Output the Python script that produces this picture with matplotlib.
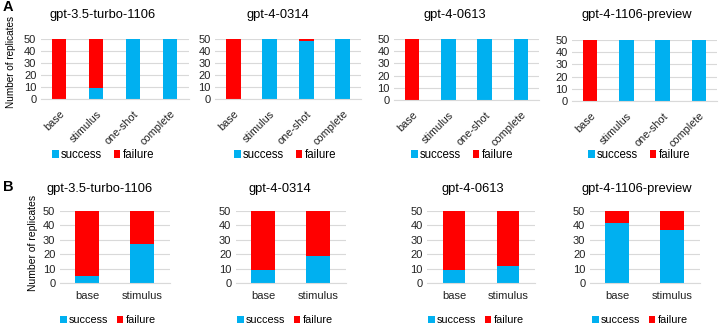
import matplotlib
matplotlib.use("Agg")
import matplotlib.pyplot as plt
from matplotlib.patches import Patch

plt.rcParams['font.family'] = ['Liberation Sans', 'DejaVu Sans']

models = ["gpt-3.5-turbo-1106", "gpt-4-0314", "gpt-4-0613", "gpt-4-1106-preview"]
cats_a = ["base", "stimulus", "one-shot", "complete"]
succ_a = [
    [0, 9, 50, 50],
    [0, 50, 48, 50],
    [0, 50, 50, 50],
    [0, 50, 50, 50],
]
cats_b = ["base", "stimulus"]
succ_b = [
    [5, 27],
    [9, 19],
    [9, 12],
    [42, 37],
]
total = 50

BLUE = "#00B0F0"
RED = "#FF0000"
GRID = "#D9D9D9"

W, H = 720, 328
fig = plt.figure(figsize=(W / 100, H / 100), dpi=100)

def px_rect(left, right, top, bottom):
    return [left / W, 1 - bottom / H, (right - left) / W, (bottom - top) / H]

a_rects = [
    px_rect(40.5, 188.5, 39, 99),
    px_rect(215, 361, 39, 99),
    px_rect(394, 539, 39, 100),
    px_rect(572, 717, 40, 101),
]
a_titles_x = [103, 278, 455, 637]
a_leg_x = [103, 285, 462, 639]

b_rects = [
    px_rect(59.5, 169.5, 211, 283),
    px_rect(235.5, 345.5, 211, 283),
    px_rect(427, 535, 211, 283),
    px_rect(589.5, 699.5, 211, 283),
]
b_titles_x = [100, 280, 473, 637]
b_leg_x = [108, 285, 476, 640]

def style_ax(ax, size):
    ax.set_ylim(0, 50)
    ax.set_yticks([0, 10, 20, 30, 40, 50])
    ax.yaxis.grid(True, color=GRID, linewidth=0.8)
    ax.set_axisbelow(True)
    for s in ["top", "right", "left"]:
        ax.spines[s].set_visible(False)
    ax.spines["bottom"].set_color(GRID)
    ax.tick_params(axis="both", length=0, labelsize=size, colors="#222222", pad=3)

def legend(x_px, y_px, size, colsp):
    handles = [Patch(facecolor=BLUE, edgecolor="none", label="success"),
               Patch(facecolor=RED, edgecolor="none", label="failure")]
    fig.legend(handles=handles, loc="center", bbox_to_anchor=(x_px / W, 1 - y_px / H),
               ncol=2, frameon=False, fontsize=size, handlelength=0.6, handleheight=0.6,
               handletextpad=0.2, columnspacing=colsp, borderpad=0)

for i, m in enumerate(models):
    ax = fig.add_axes(a_rects[i])
    x = list(range(len(cats_a)))
    s = succ_a[i]
    f = [total - v for v in s]
    ax.bar(x, s, width=0.4, color=BLUE)
    ax.bar(x, f, width=0.4, bottom=s, color=RED)
    ax.set_xlim(-0.5, len(cats_a) - 0.5)
    style_ax(ax, 8)
    ax.set_xticks(x)
    ax.set_xticklabels(cats_a, rotation=45, ha="right", rotation_mode="anchor", fontsize=7.8)
    ax.tick_params(axis="x", pad=7)
    if i == 0:
        ax.set_ylabel("Number of replicates", fontsize=7.2)
        ax.yaxis.set_label_coords(-0.166, 0.62)
    fig.text(a_titles_x[i] / W, 1 - 15 / H, m, ha="center", va="center", fontsize=9.3)
    legend(a_leg_x[i], 155, 8.3, 1.0)

for i, m in enumerate(models):
    ax = fig.add_axes(b_rects[i])
    x = list(range(len(cats_b)))
    s = succ_b[i]
    f = [total - v for v in s]
    ax.bar(x, s, width=0.42, color=BLUE)
    ax.bar(x, f, width=0.42, bottom=s, color=RED)
    ax.set_xlim(-0.5, len(cats_b) - 0.5)
    style_ax(ax, 8)
    ax.set_xticks(x)
    ax.set_xticklabels(cats_b)
    ax.tick_params(axis="x", pad=6)
    if i == 0:
        ax.set_ylabel("Number of replicates", fontsize=7.5)
        ax.yaxis.set_label_coords(-0.2, 0.55)
    fig.text(b_titles_x[i] / W, 1 - 189 / H, m, ha="center", va="center", fontsize=9.3)
    legend(b_leg_x[i], 320, 7.8, 0.8)

fig.text(3 / W, 1 - 7 / H, "A", fontsize=10.5, fontweight="bold", ha="left", va="center")
fig.text(3 / W, 1 - 187 / H, "B", fontsize=10.5, fontweight="bold", ha="left", va="center")

fig.savefig("out.png", dpi=100, facecolor="white")
